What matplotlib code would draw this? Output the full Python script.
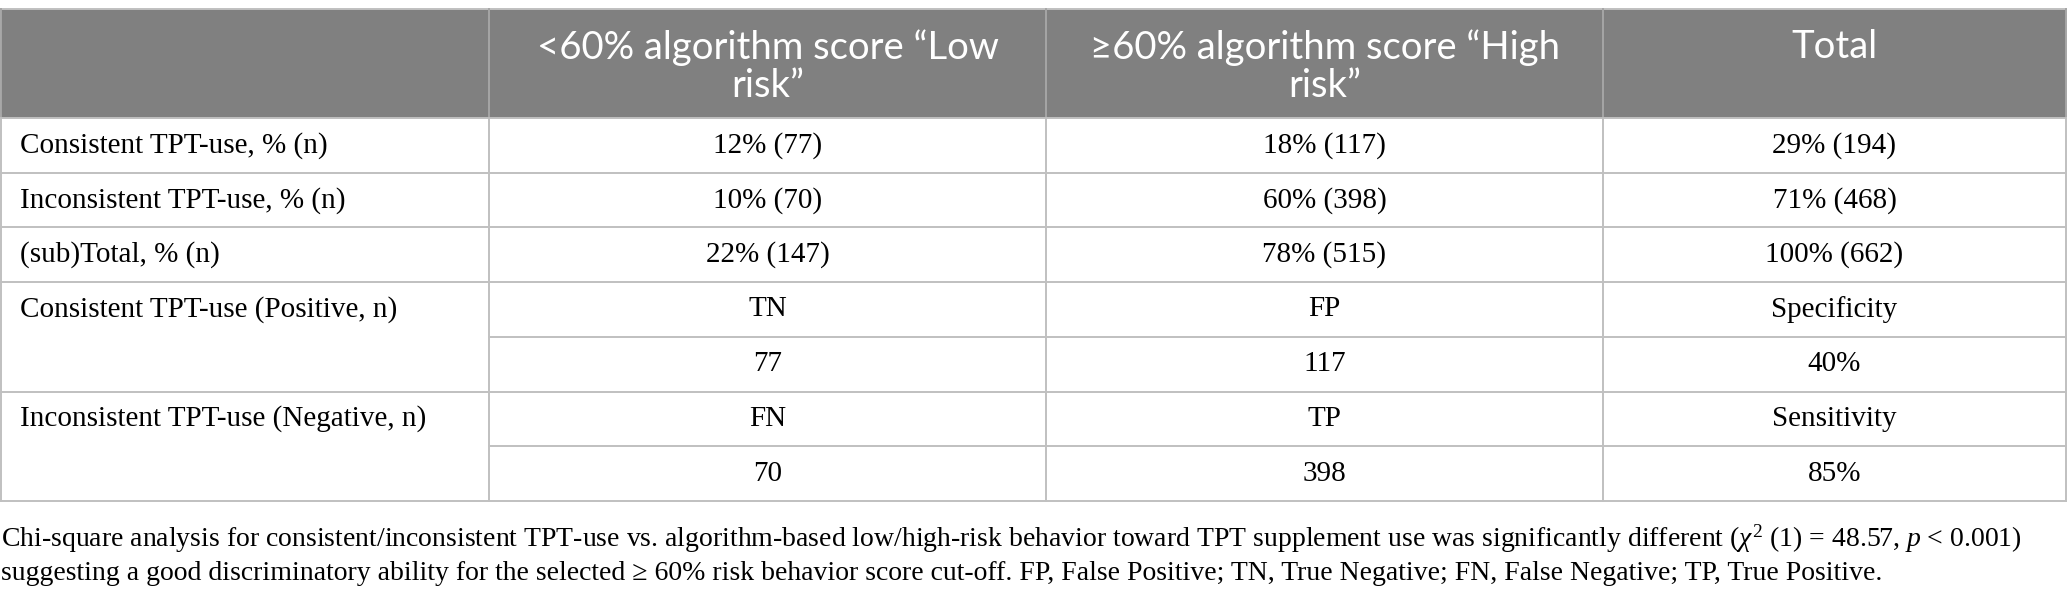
import matplotlib.pyplot as plt

plt.rcParams['mathtext.fontset'] = 'custom'
plt.rcParams['mathtext.rm'] = 'Liberation Serif'
plt.rcParams['mathtext.it'] = 'Liberation Serif:italic'

# table content
headers = ["",
           "<60% algorithm score \u201cLow\nrisk\u201d",
           "\u226560% algorithm score \u201cHigh\nrisk\u201d",
           "Total"]
row_labels = ["Consistent TPT-use, % (n)",
              "Inconsistent TPT-use, % (n)",
              "(sub)Total, % (n)"]
low_risk = ["12% (77)", "10% (70)", "22% (147)"]
high_risk = ["18% (117)", "60% (398)", "78% (515)"]
total = ["29% (194)", "71% (468)", "100% (662)"]

group_labels = ["Consistent TPT-use (Positive, n)",
                "Inconsistent TPT-use (Negative, n)"]
group_names = [["TN", "FP", "Specificity"], ["FN", "TP", "Sensitivity"]]
group_vals = [["77", "117", "40%"], ["70", "398", "85%"]]

footnote = ("Chi-square analysis for consistent/inconsistent TPT-use vs. algorithm-based "
            "low/high-risk behavior toward TPT supplement use was significantly different "
            "($\\chi^{2}$ (1) = 48.57, $p$ < 0.001)\n"
            "suggesting a good discriminatory ability for the selected \u2265 60% risk behavior "
            "score cut-off. FP, False Positive; TN, True Negative; FN, False Negative; TP, True Positive.")

# layout (pixels)
W, H = 2067, 597
col_x = [1, 489, 1046, 1603, 2066]
top, head_bot = 9, 118
row_h = 54.7
n_rows = len(row_labels) + 2 * len(group_labels)
row_y = [head_bot + i * row_h for i in range(n_rows + 1)]

header_bg = "#808080"
line_c = "#c0c0c0"
head_line_c = "#a6a6a6"
serif = "Liberation Serif"
sans = "Lato"
body_fs = 21
foot_fs = 20
head_fs = 27.5

fig = plt.figure(figsize=(W / 100, H / 100), dpi=100)
ax = fig.add_axes([0, 0, 1, 1])
ax.set_xlim(0, W)
ax.set_ylim(H, 0)
ax.axis("off")

# header
ax.add_patch(plt.Rectangle((col_x[0], top), col_x[-1] - col_x[0], head_bot - top,
                           facecolor=header_bg, edgecolor="none"))
for j, h in enumerate(headers):
    if not h:
        continue
    cx = (col_x[j] + col_x[j + 1]) / 2
    ax.text(cx, top + 20, h, ha="center", va="top", color="white",
            fontsize=head_fs, family=sans, linespacing=1.08)

# body rows
def mid(i):
    return (row_y[i] + row_y[i + 1]) / 2

cols = [low_risk, high_risk, total]
for i, lab in enumerate(row_labels):
    ax.text(col_x[0] + 19, mid(i), lab, ha="left", va="center",
            fontsize=body_fs, family=serif)
    for j, vals in enumerate(cols):
        cx = (col_x[j + 1] + col_x[j + 2]) / 2
        ax.text(cx, mid(i), vals[i], ha="center", va="center",
                fontsize=body_fs, family=serif)

base = len(row_labels)
for g, lab in enumerate(group_labels):
    r0 = base + 2 * g
    ax.text(col_x[0] + 19, mid(r0), lab, ha="left", va="center",
            fontsize=body_fs, family=serif)
    for j in range(3):
        cx = (col_x[j + 1] + col_x[j + 2]) / 2
        ax.text(cx, mid(r0), group_names[g][j], ha="center", va="center",
                fontsize=body_fs, family=serif)
        ax.text(cx, mid(r0 + 1), group_vals[g][j], ha="center", va="center",
                fontsize=body_fs, family=serif)

# grid lines
lw = 1.4
ax.plot([col_x[0], col_x[-1]], [top, top], color=line_c, lw=lw)
ax.plot([col_x[0], col_x[-1]], [head_bot, head_bot], color=line_c, lw=lw)
for i in range(1, n_rows + 1):
    r = i - base
    if r > 0 and r % 2 == 1:
        # inner line of merged group: skip first column
        ax.plot([col_x[1], col_x[-1]], [row_y[i], row_y[i]], color=line_c, lw=lw)
    else:
        ax.plot([col_x[0], col_x[-1]], [row_y[i], row_y[i]], color=line_c, lw=lw)
for x in col_x:
    ax.plot([x, x], [top, head_bot], color=head_line_c, lw=lw)
    ax.plot([x, x], [head_bot, row_y[-1]], color=line_c, lw=lw)

# footnote
ax.text(col_x[0], row_y[-1] + 22, footnote, ha="left", va="top",
        fontsize=foot_fs, family=serif, linespacing=1.3)

fig.savefig("out.png", dpi=100)
